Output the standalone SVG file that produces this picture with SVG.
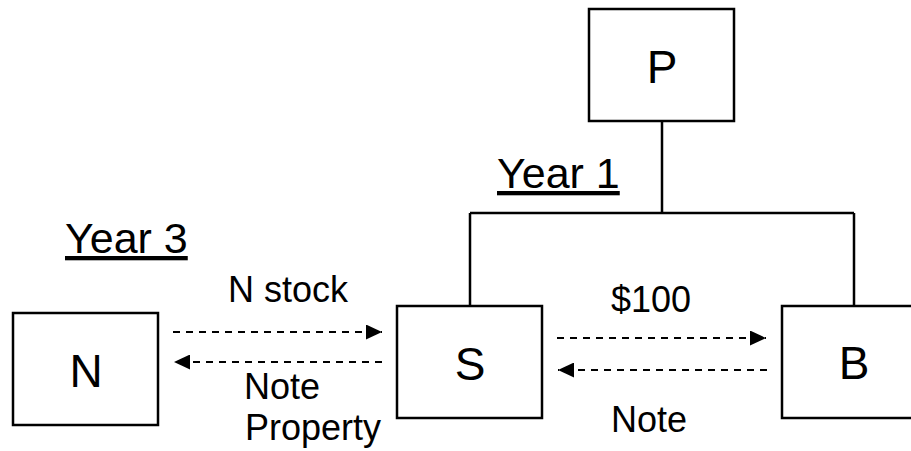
<svg xmlns="http://www.w3.org/2000/svg" width="911" height="451" viewBox="0 0 911 451">
<defs>
<style>
.box{fill:#fff;stroke:#000;stroke-width:2.5}
.line{fill:none;stroke:#000;stroke-width:2.5}
.dash{fill:none;stroke:#000;stroke-width:2;stroke-dasharray:7 6}
.big{font-family:"Liberation Sans",Arial,sans-serif;font-size:46px;text-anchor:middle;fill:#000}
.lbl{font-family:"Liberation Sans",Arial,sans-serif;font-size:36px;fill:#000}
.yr{font-family:"Liberation Sans",Arial,sans-serif;font-size:43px;fill:#000;text-decoration:underline}
</style>
<marker id="ah" viewBox="0 0 16 15" refX="16" refY="7.5" markerWidth="16" markerHeight="15" markerUnits="userSpaceOnUse" orient="auto">
<path d="M0,0 L16,7.5 L0,15 Z" fill="#000"/>
</marker>
</defs>
<rect width="911" height="451" fill="#fff"/>
<g id="connectors">
<path class="line" d="M662,121 V213 M470,213 H854 M470,213 V306 M854,213 V306"/>
<line class="dash" x1="173" y1="332" x2="382" y2="332" marker-end="url(#ah)"/>
<line class="dash" x1="382" y1="362" x2="174" y2="362" marker-end="url(#ah)"/>
<line class="dash" x1="557" y1="338" x2="766" y2="338" marker-end="url(#ah)"/>
<line class="dash" x1="767" y1="370" x2="558" y2="370" marker-end="url(#ah)"/>
<text class="lbl" x="288" y="302" text-anchor="middle">N stock</text>
<text class="lbl" x="244" y="399">Note</text>
<text class="lbl" x="245" y="440">Property</text>
<text class="lbl" x="651" y="312" text-anchor="middle">$100</text>
<text class="lbl" x="649" y="432" text-anchor="middle">Note</text>
</g>
<g id="node-P">
<rect class="box" x="589" y="9" width="145" height="112"/>
<text class="big" x="662" y="83">P</text>
</g>
<g id="node-S">
<rect class="box" x="397" y="306" width="145" height="112"/>
<text class="big" x="470" y="380">S</text>
</g>
<g id="node-B">
<rect class="box" x="782" y="306" width="145" height="112"/>
<text class="big" x="854" y="379">B</text>
</g>
<g id="node-N">
<rect class="box" x="13" y="313" width="145" height="112"/>
<text class="big" x="86" y="387">N</text>
</g>
<text class="yr" x="497" y="188">Year 1</text>
<text class="yr" x="65" y="253">Year 3</text>
</svg>
